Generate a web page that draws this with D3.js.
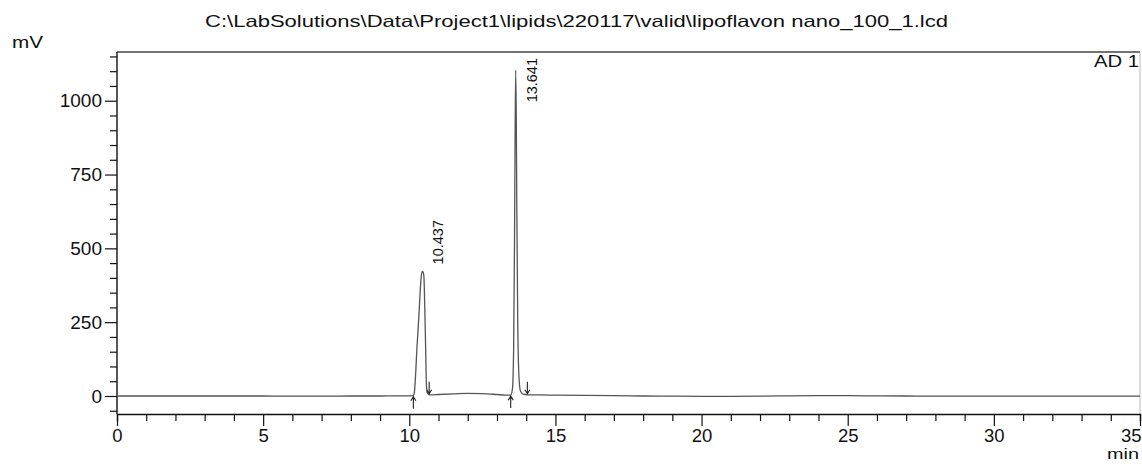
<!DOCTYPE html>
<html>
<head>
<meta charset="utf-8">
<script src="https://cdn.jsdelivr.net/npm/d3@7"></script>
<style>
  html, body { margin: 0; padding: 0; background: #fff; }
  svg { display: block; }
  text { font-family: "Liberation Sans", Arial, sans-serif; fill: #111; }
</style>
</head>
<body>
<svg id="chart" width="1142" height="464"></svg>
<script>
// ---- data ----
const titleText = "C:\\LabSolutions\\Data\\Project1\\lipids\\220117\\valid\\lipoflavon nano_100_1.lcd";
const yUnit = "mV";
const xUnit = "min";
const channelLabel = "AD 1";

const times = [0, 1, 2, 3, 4, 5, 6, 7, 8, 9, 9.5, 10, 10.13, 10.17, 10.22, 10.26, 10.31, 10.36, 10.40, 10.437, 10.47, 10.50, 10.53, 10.56, 10.59, 10.63, 10.69, 11, 11.5, 12, 12.5, 13, 13.3, 13.47, 13.53, 13.57, 13.60, 13.62, 13.641, 13.66, 13.68, 13.71, 13.75, 13.80, 13.88, 14.04, 14.5, 15, 16, 17, 18, 19, 20, 21, 22, 23, 24, 25, 26, 27, 28, 29, 30, 31, 32, 33, 34, 35];
const signal = [0, 0, 0, 0, 0, 0, -0.5, -0.5, 0, 0, 0.5, 0.5, 1, 10, 80, 160, 240, 330, 395, 422, 420, 405, 300, 160, 30, 8, 4, 5, 7, 9, 8, 5, 3, 3, 25, 160, 520, 880, 1104, 950, 620, 260, 70, 18, 7, 4, 3.5, 3, 2, 1, 0, -0.5, -1, -1, -0.5, 0.5, 1, 1, 0.5, 0, -0.5, -0.5, -0.5, -0.5, -0.5, -0.5, -0.5, -0.5];

const peakRT = [10.437, 13.641];
const peakLabels = ["10.437", "13.641"];
const peakApex = [422, 1104];
const peakStart = [10.14, 13.47];
const peakEnd = [10.68, 14.04];
const peakStartLevel = [1, 3];
const peakEndLevel = [4, 4];

const xMajorTicks = [0, 5, 10, 15, 20, 25, 30, 35];
const yMajorTicks = [0, 250, 500, 750, 1000];

// ---- layout ----
const svg = d3.select("#chart");
const L = 117, R = 1140, T = 52, B = 414;
const x = d3.scaleLinear().domain([0, 35]).range([L, R]);
const y = d3.scaleLinear().domain([-61, 1165]).range([B, T]);

const xMinor = d3.range(0, 36, 1).filter(v => v % 5 !== 0);
const yMinor = d3.range(-50, 1151, 50).filter(v => v % 250 !== 0);

// title
svg.append("text").attr("x", 205).attr("y", 27)
  .attr("font-size", 16.5).attr("textLength", 743).attr("lengthAdjust", "spacingAndGlyphs")
  .text(titleText);

// unit labels
svg.append("text").attr("x", 12).attr("y", 48).attr("font-size", 16)
  .attr("textLength", 31).attr("lengthAdjust", "spacingAndGlyphs").text(yUnit);
svg.append("text").attr("x", 1107).attr("y", 459).attr("font-size", 15)
  .attr("textLength", 32).attr("lengthAdjust", "spacingAndGlyphs").text(xUnit);

// frame: top and right
svg.append("line").attr("x1", L).attr("x2", R).attr("y1", T).attr("y2", T)
  .attr("stroke", "#444").attr("stroke-width", 1.6);
svg.append("line").attr("x1", R).attr("x2", R).attr("y1", T).attr("y2", B)
  .attr("stroke", "#bbb").attr("stroke-width", 1);

// axes
const gy = svg.append("g").attr("transform", `translate(${L},0)`);
gy.call(d3.axisLeft(y).tickValues(yMinor).tickSize(7).tickFormat(""));
const gyMaj = svg.append("g").attr("transform", `translate(${L},0)`);
gyMaj.call(d3.axisLeft(y).tickValues(yMajorTicks).tickSize(12).tickPadding(3).tickFormat(d3.format("d")));
gyMaj.selectAll(".domain").remove();
gy.selectAll(".domain").attr("d", `M0,${B}V${T}`).attr("stroke", "#111").attr("stroke-width", 1.4);
gyMaj.selectAll("text").attr("font-size", 19).attr("font-family", "Liberation Sans, Arial, sans-serif").attr("fill", "#111");

const gx = svg.append("g").attr("transform", `translate(0,${B})`);
gx.call(d3.axisBottom(x).tickValues(xMinor).tickSize(7).tickFormat(""));
const gxMaj = svg.append("g").attr("transform", `translate(0,${B})`);
gxMaj.call(d3.axisBottom(x).tickValues(xMajorTicks).tickSize(12).tickPadding(3));
gx.selectAll(".domain").attr("stroke", "#111").attr("stroke-width", 1.4);
gxMaj.selectAll(".domain").remove();
svg.selectAll("g .tick line").attr("stroke", "#111").attr("stroke-width", 1.2);
gxMaj.selectAll("text").attr("font-size", 18.5).attr("font-family", "Liberation Sans, Arial, sans-serif").attr("fill", "#111");
gxMaj.selectAll(".tick").filter(d => d === 35).select("text")
  .attr("text-anchor", "end").attr("x", 1);

// channel label
svg.append("text").attr("x", 1139).attr("y", 67).attr("text-anchor", "end")
  .attr("font-size", 17).attr("textLength", 45).attr("lengthAdjust", "spacingAndGlyphs")
  .text(channelLabel);

// chromatogram
const pts = times.map((t, i) => [t, signal[i]]);
const line = d3.line().x(d => x(d[0])).y(d => y(d[1])).curve(d3.curveMonotoneX);
svg.append("path").datum(pts).attr("d", line)
  .attr("fill", "none").attr("stroke", "#555").attr("stroke-width", 1.3)
  .attr("stroke-linejoin", "round");

// peak start/end arrows
const arrows = svg.append("g").attr("stroke", "#222").attr("stroke-width", 1.1).attr("fill", "none");
peakStart.forEach((t, i) => {
  const px = x(t), py = y(peakStartLevel[i]);
  arrows.append("path").attr("d",
    `M${px},${py + 13}V${py + 1}M${px - 2.5},${py + 5}L${px},${py + 1}L${px + 2.5},${py + 5}`);
});
peakEnd.forEach((t, i) => {
  const px = x(t), py = y(peakEndLevel[i]);
  arrows.append("path").attr("d",
    `M${px},${py - 13}V${py - 1}M${px - 2.5},${py - 5}L${px},${py - 1}L${px + 2.5},${py - 5}`);
});

// peak labels
peakRT.forEach((rt, i) => {
  const fs = 14.5;
  const t = svg.append("text").attr("font-size", fs).text(peakLabels[i]);
  const len = t.node().getComputedTextLength();
  const bx = x(rt) + 21;
  const by = Math.max(y(peakApex[i]) - 7, T + 6 + len);
  t.attr("transform", `translate(${bx},${by}) rotate(-90)`);
});
</script>
</body>
</html>
